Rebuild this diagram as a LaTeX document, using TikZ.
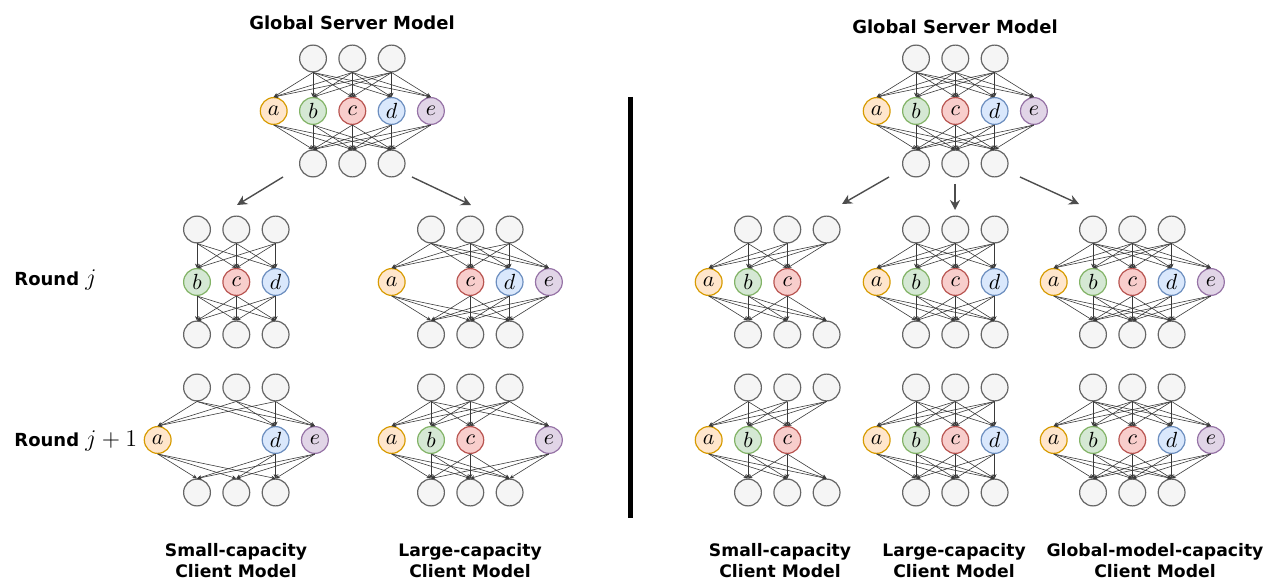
\documentclass[tikz,border=0pt]{standalone}
\usepackage{fontspec}
\setsansfont{DejaVu Sans}
\usetikzlibrary{arrows.meta}

\definecolor{unitfill}{HTML}{F5F5F5}
\definecolor{unitline}{HTML}{666666}
\definecolor{filla}{HTML}{FFE6CC}
\definecolor{linea}{HTML}{D79B00}
\definecolor{fillb}{HTML}{D5E8D4}
\definecolor{lineb}{HTML}{82B366}
\definecolor{fillc}{HTML}{F8CECC}
\definecolor{linec}{HTML}{B85450}
\definecolor{filld}{HTML}{DAE8FC}
\definecolor{lined}{HTML}{6C8EBF}
\definecolor{fille}{HTML}{E1D5E7}
\definecolor{linee}{HTML}{9673A6}
\definecolor{linkgray}{HTML}{3A3A3A}
\definecolor{arrowgray}{HTML}{4D4D4D}

\begin{document}
\begin{tikzpicture}[
    x=0.5pt, y=-0.5pt,
    unit/.style={circle, draw=unitline, fill=unitfill, line width=0.6pt, minimum size=13.4pt, inner sep=0pt, font=\fontsize{10.5}{12}\selectfont},
    link/.style={-{Stealth[length=2.2pt,width=2pt]}, draw=linkgray, line width=0.3pt},
    arrow/.style={-{Stealth[length=5pt,width=5pt]}, draw=arrowgray, line width=0.7pt},
    title/.style={font=\sffamily\bfseries\fontsize{9}{11}\selectfont},
    caption/.style={font=\sffamily\bfseries\fontsize{8.6}{10.5}\selectfont, align=center},
    roundlabel/.style={font=\sffamily\bfseries\fontsize{9}{11}\selectfont, anchor=west, inner sep=0pt},
    divider/.style={line width=2.5pt, black}
]
\useasboundingbox (0,0) rectangle (1273,588);

% Parameters for ease of adjustments
\newcommand{\UnitSep}{39.3}
\newcommand{\RowSep}{52.5}
\newcommand{\RoundJ}{282}
\newcommand{\RoundK}{440}

% #1 name, #2 x of first input unit, #3 y of hidden row, #4 slot/letter of hidden units
\newcommand{\DrawNet}[4]{%
    \foreach \i in {1,2,3}{
        \node[unit] (#1-in-\i) at ({#2+(\i-1)*\UnitSep}, {#3-\RowSep}) {};
        \node[unit] (#1-out-\i) at ({#2+(\i-1)*\UnitSep}, {#3+\RowSep}) {};
    }
    \foreach \s/\h in {#4}{
        \node[unit, draw=line\h, fill=fill\h] (#1-\h) at ({#2+(\s-2)*\UnitSep}, #3) {$\h$};
        \foreach \i in {1,2,3}{
            \draw[link] (#1-in-\i.south) -- (#1-\h.north);
            \draw[link] (#1-\h.south) -- (#1-out-\i.north);
        }
    }
}

% Global server models
\DrawNet{gL}{313}{111}{1/a,2/b,3/c,4/d,5/e}
\DrawNet{gR}{916}{111}{1/a,2/b,3/c,4/d,5/e}
\node[title] (titleL) at (352,23) {Global Server Model};
\node[title] (titleR) at (955,27) {Global Server Model};

% Left: client models per round
\DrawNet{sLj}{197}{\RoundJ}{2/b,3/c,4/d}
\DrawNet{lLj}{431}{\RoundJ}{1/a,3/c,4/d,5/e}
\DrawNet{sLk}{197}{\RoundK}{1/a,4/d,5/e}
\DrawNet{lLk}{431}{\RoundK}{1/a,2/b,3/c,5/e}

% Right: client models per round
\DrawNet{sRj}{748}{\RoundJ}{1/a,2/b,3/c}
\DrawNet{mRj}{916}{\RoundJ}{1/a,2/b,3/c,4/d}
\DrawNet{fRj}{1093}{\RoundJ}{1/a,2/b,3/c,4/d,5/e}
\DrawNet{sRk}{748}{\RoundK}{1/a,2/b,3/c}
\DrawNet{mRk}{916}{\RoundK}{1/a,2/b,3/c,4/d}
\DrawNet{fRk}{1093}{\RoundK}{1/a,2/b,3/c,4/d,5/e}

% Round labels
\node[roundlabel] (roundj) at (14,280) {Round {\fontsize{12}{14}\selectfont$j$}};
\node[roundlabel] (roundk) at (14,441) {Round {\fontsize{12}{14}\selectfont$j+1$}};

% Distribution arrows
\coordinate (dL1) at (283,177); \coordinate (tL1) at (237,205);
\coordinate (dL2) at (412,177); \coordinate (tL2) at (471,205);
\coordinate (dR1) at (889,177); \coordinate (tR1) at (842,204);
\coordinate (dR2) at (955,184); \coordinate (tR2) at (955,210);
\coordinate (dR3) at (1020,177); \coordinate (tR3) at (1079,204);
\foreach \d/\t in {dL1/tL1, dL2/tL2, dR1/tR1, dR2/tR2, dR3/tR3}{
    \draw[arrow] (\d) -- (\t);
}

% Divider
\coordinate (divtop) at (630,97);
\coordinate (divbot) at (630,518);
\draw[divider] (divtop) -- (divbot);

% Captions
\node[caption] (capsL) at (236,561) {Small-capacity\\Client Model};
\node[caption] (caplL) at (470,561) {Large-capacity\\Client Model};
\node[caption] (capsR) at (780,561) {Small-capacity\\Client Model};
\node[caption] (capmR) at (954,561) {Large-capacity\\Client Model};
\node[caption] (capfR) at (1155,561) {Global-model-capacity\\Client Model};

\end{tikzpicture}
\end{document}
